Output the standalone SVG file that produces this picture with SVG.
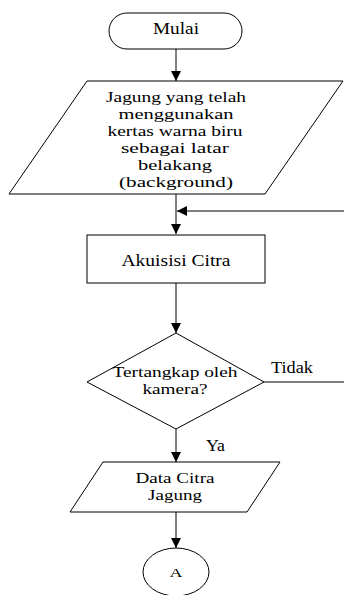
<svg xmlns="http://www.w3.org/2000/svg" width="344" height="595" viewBox="0 0 344 595">
<style>
.s{fill:#fff;stroke:#000;stroke-width:1}
.c{fill:none;stroke:#000;stroke-width:1}
text{font-family:"Liberation Serif","Times New Roman",serif;font-size:17px;fill:#000;text-anchor:middle}
.m{font-size:15px}
.l{text-anchor:start;font-size:16px}
</style>
<defs>
<marker id="ah" viewBox="0 0 10 10" refX="10" refY="5" markerWidth="10" markerHeight="12" markerUnits="userSpaceOnUse" orient="auto">
<path d="M0,0 L10,5 L0,10 z" fill="#000"/>
</marker>
</defs>
<rect width="344" height="595" fill="#fff"/>
<g id="connectors">
<line class="c" x1="176" y1="49" x2="176" y2="81" marker-end="url(#ah)"/>
<line class="c" x1="176" y1="194" x2="176" y2="234" marker-end="url(#ah)"/>
<line class="c" x1="176" y1="283" x2="176" y2="333" marker-end="url(#ah)"/>
<line class="c" x1="176" y1="429" x2="176" y2="462" marker-end="url(#ah)"/>
<line class="c" x1="176" y1="512" x2="176" y2="548" marker-end="url(#ah)"/>
<polyline class="c" points="264,382 346,382 346,211 177,211" marker-end="url(#ah)"/>
<text class="l" x="271" y="373" textLength="42" lengthAdjust="spacingAndGlyphs">Tidak</text>
<text class="l" x="206" y="451" textLength="19" lengthAdjust="spacingAndGlyphs">Ya</text>
</g>
<g id="start">
<rect class="s" x="109" y="13" width="133" height="36" rx="18" ry="18"/>
<text x="176" y="34" textLength="46" lengthAdjust="spacingAndGlyphs">Mulai</text>
</g>
<g id="input">
<polygon class="s" points="87,81 343,81 265,194 9,194"/>
<text class="m" x="176" y="102" textLength="140" lengthAdjust="spacingAndGlyphs">Jagung yang telah</text>
<text class="m" x="176" y="119" textLength="115" lengthAdjust="spacingAndGlyphs">menggunakan</text>
<text class="m" x="175" y="136" textLength="135" lengthAdjust="spacingAndGlyphs">kertas warna biru</text>
<text class="m" x="175" y="153" textLength="108" lengthAdjust="spacingAndGlyphs">sebagai latar</text>
<text class="m" x="175" y="170" textLength="74" lengthAdjust="spacingAndGlyphs">belakang</text>
<text class="m" x="176" y="187" textLength="114" lengthAdjust="spacingAndGlyphs">(background)</text>
</g>
<g id="akuisisi">
<rect class="s" x="87" y="235" width="178" height="48"/>
<text x="176" y="266" textLength="109" lengthAdjust="spacingAndGlyphs">Akuisisi Citra</text>
</g>
<g id="decision">
<polygon class="s" points="176,333 264,382 176,429 87,382"/>
<text class="m" x="175" y="377" textLength="125" lengthAdjust="spacingAndGlyphs">Tertangkap oleh</text>
<text class="m" x="175" y="394" textLength="65" lengthAdjust="spacingAndGlyphs">kamera?</text>
</g>
<g id="output">
<polygon class="s" points="103,462 280,462 247,512 70,512"/>
<text class="m" x="175" y="483" textLength="79" lengthAdjust="spacingAndGlyphs">Data Citra</text>
<text class="m" x="175" y="500" textLength="54" lengthAdjust="spacingAndGlyphs">Jagung</text>
</g>
<g id="connectorA">
<ellipse class="s" cx="176" cy="572" rx="33" ry="24"/>
<text x="176" y="577" style="font-size:13px" textLength="13" lengthAdjust="spacingAndGlyphs">A</text>
</g>
</svg>
